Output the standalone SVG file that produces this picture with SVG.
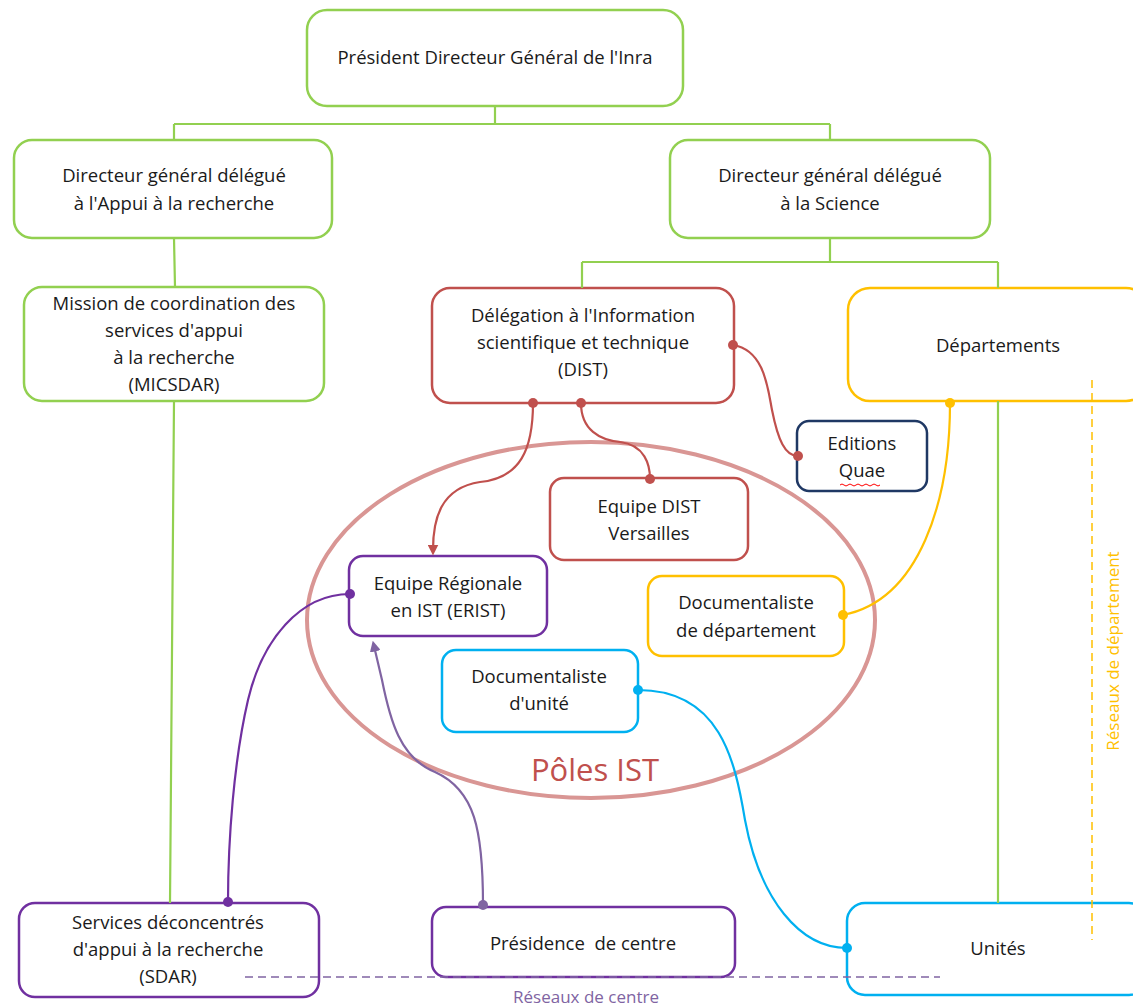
<svg xmlns="http://www.w3.org/2000/svg" width="1133" height="1007" viewBox="0 0 1133 1007">
<style>
text{font-family:"Open Sans","Liberation Sans",sans-serif;font-size:18.5px;fill:#1a1a1a;text-anchor:middle}
.box{fill:#fff;stroke-width:2.5}
.g{stroke:#92d050}.r{stroke:#c0504d}.y{stroke:#ffc000}.p{stroke:#7030a0}.c{stroke:#00b0f0}.b{stroke:#1f3864}
.ln{fill:none;stroke-width:2.2}
</style>
<defs>
<marker id="ar" viewBox="0 0 10 10" refX="5" refY="5" markerWidth="5" markerHeight="5" orient="auto"><path d="M0,0 L10,5 L0,10 z" fill="#c0504d"/></marker>
<marker id="ap" viewBox="0 0 10 10" refX="5" refY="5" markerWidth="5" markerHeight="5" orient="auto"><path d="M0,0 L10,5 L0,10 z" fill="#8064a2"/></marker>
</defs>
<rect width="1133" height="1007" fill="#fff"/>
<ellipse cx="591" cy="620" rx="284" ry="178" fill="none" stroke="#d99694" stroke-width="4"/>
<g id="pdg"><rect class="box g" x="307" y="10" width="376" height="96" rx="20"/><text x="495" y="64">Président Directeur Général de l'Inra</text></g>
<g id="dg-appui"><rect class="box g" x="14" y="140" width="318" height="98" rx="18"/><text x="174" y="182">Directeur général délégué</text><text x="174" y="210">à l'Appui à la recherche</text></g>
<g id="dg-science"><rect class="box g" x="670" y="140" width="320" height="98" rx="18"/><text x="830" y="182">Directeur général délégué</text><text x="830" y="210">à la Science</text></g>
<g id="micsdar"><rect class="box g" x="24" y="287" width="300" height="114" rx="18"/><text x="174" y="310">Mission de coordination des</text><text x="174" y="337">services d'appui</text><text x="174" y="364">à la recherche</text><text x="174" y="391">(MICSDAR)</text></g>
<g id="dist"><rect class="box r" x="432" y="288" width="302" height="115" rx="18"/><text x="583" y="322">Délégation à l'Information</text><text x="583" y="349">scientifique et technique</text><text x="583" y="376">(DIST)</text></g>
<g id="departements"><rect class="box y" x="848" y="288" width="300" height="113" rx="22"/><text x="998" y="352">Départements</text></g>
<g id="quae"><rect class="box b" x="797" y="421" width="130" height="70" rx="12"/><text x="862" y="450">Editions</text><text x="862" y="477">Quae</text><path d="M840,485 q2,-2 4,0 t4,0 t4,0 t4,0 t4,0 t4,0 t4,0 t4,0 t4,0 t4,0" fill="none" stroke="#ff0000" stroke-width="1"/></g>
<g id="dist-versailles"><rect class="box r" x="550" y="478" width="198" height="82" rx="14"/><text x="649" y="513">Equipe DIST</text><text x="649" y="540">Versailles</text></g>
<g id="erist"><rect class="box p" x="349" y="556" width="198" height="80" rx="14"/><text x="448" y="590">Equipe Régionale</text><text x="448" y="617">en IST (ERIST)</text></g>
<g id="doc-dept"><rect class="box y" x="648" y="576" width="196" height="80" rx="14"/><text x="746" y="609">Documentaliste</text><text x="746" y="637">de département</text></g>
<g id="doc-unite"><rect class="box c" x="442" y="650" width="196" height="82" rx="14"/><text x="539" y="683">Documentaliste</text><text x="539" y="710">d'unité</text></g>
<text x="595" y="781" style="font-size:31px;fill:#c0504d">Pôles IST</text>
<g id="sdar"><rect class="box p" x="19" y="903" width="300" height="94" rx="16"/><text x="168" y="929">Services déconcentrés</text><text x="168" y="956">d'appui à la recherche</text><text x="168" y="983">(SDAR)</text></g>
<g id="presidence"><rect class="box p" x="432" y="907" width="303" height="70" rx="14"/><text x="583" y="950" xml:space="preserve">Présidence  de centre</text></g>
<g id="unites"><rect class="box c" x="847" y="903" width="300" height="92" rx="18"/><text x="998" y="955">Unités</text></g>
<g id="connectors">
<path class="ln g" d="M495,106 V124 M174,124 H830 M174,124 V140 M830,124 V140 M830,238 V262 M582,262 H998 M582,262 V288 M998,262 V288 M998,401 V903 M174,238 L175,287 M174,401 L170,903"/>
<path class="ln r" d="M733,345 C765,350 768,390 772,410 C778,440 785,456 798,456"/>
<path class="ln r" d="M533,403 C533,450 520,478 480,482 C440,488 433,520 433,550" marker-end="url(#ar)"/>
<path class="ln r" d="M581,403 C581,430 600,440 620,442 C645,445 650,465 650,479"/>
<path class="ln y" d="M950,403 C950,500 920,600 843,615"/>
<path class="ln p" d="M350,594 C300,594 262,640 248,700 C234,760 228,840 228,902"/>
<path class="ln" stroke="#8064a2" d="M483,905 C483,830 475,790 435,772 C400,758 390,720 382,680 L374,646" marker-end="url(#ap)"/>
<path class="ln c" d="M638,690 C720,690 735,760 745,820 C760,900 800,948 847,948"/>
<g fill="#c0504d"><circle cx="733" cy="345" r="5"/><circle cx="798" cy="456" r="5"/><circle cx="533" cy="403" r="5"/><circle cx="581" cy="403" r="5"/><circle cx="650" cy="479" r="5"/></g>
<g fill="#ffc000"><circle cx="950" cy="403" r="5"/><circle cx="843" cy="615" r="5"/></g>
<g fill="#7030a0"><circle cx="350" cy="594" r="5"/><circle cx="228" cy="902" r="5"/></g>
<circle cx="483" cy="905" r="5" fill="#8064a2"/>
<g fill="#00b0f0"><circle cx="638" cy="690" r="5"/><circle cx="847" cy="948" r="5"/></g>
<path d="M245,977 H940" stroke="#8064a2" stroke-width="1.5" stroke-dasharray="8,5" fill="none"/>
<path d="M1092,380 V940" stroke="#ffc000" stroke-width="1.5" stroke-dasharray="8,5" fill="none"/>
</g>
<text x="586" y="1003" style="fill:#8064a2;font-size:17px">Réseaux de centre</text>
<text transform="translate(1119,651) rotate(-90)" style="fill:#ffc000;font-size:17px">Réseaux de département</text>
</svg>
